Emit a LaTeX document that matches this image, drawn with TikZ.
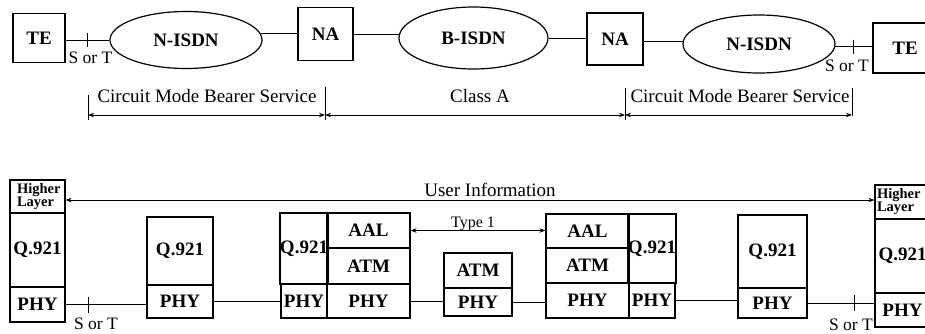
\documentclass[tikz,border=0pt]{standalone}
\usepackage{fontspec}
\setmainfont{Liberation Serif}
\usetikzlibrary{shapes.geometric,arrows.meta,calc}
\begin{document}
\begin{tikzpicture}[x=1pt,y=-1pt,
  line width=0.9pt,
  cell/.style={draw, rectangle, inner sep=0pt, line width=1.2pt, font=\bfseries\fontsize{19}{19}\selectfont},
  oval/.style={draw, ellipse, inner sep=0pt, line width=1.2pt, font=\bfseries\fontsize{19}{19}\selectfont},
  lbl/.style={inner sep=0pt, font=\fontsize{19}{19}\selectfont},
  smalllbl/.style={inner sep=0pt, font=\fontsize{17.5}{17.5}\selectfont},
  hl/.style={cell, align=left, font=\bfseries\fontsize{14.5}{13}\selectfont},
  dimarrow/.style={{Stealth[length=6pt,width=4.5pt]}-{Stealth[length=6pt,width=4.5pt]}},
]
\useasboundingbox (0,0) rectangle (925,333);
\clip (0,0) rectangle (925,333);

% ---------- top row ----------
\node[cell, minimum width=52pt, minimum height=49pt] (TE1) at (39,38) {TE};
\node[oval, minimum width=152pt, minimum height=57pt] (E1) at (186,40) {N-ISDN};
\node[cell, minimum width=55pt, minimum height=53pt] (NA1) at (325.5,34) {NA};
\node[oval, minimum width=149pt, minimum height=62pt] (E2) at (473.5,38) {B-ISDN};
\node[cell, minimum width=56pt, minimum height=52pt] (NA2) at (615,39) {NA};
\node[oval, minimum width=152pt, minimum height=58pt] (E3) at (759,44) {N-ISDN};
\node[cell, minimum width=64pt, minimum height=50pt] (TE2) at (905,48) {TE};

\draw (E1.west -| TE1.east) -- coordinate[midway] (t1) (E1.west);
\draw ([yshift=7pt]t1) -- ([yshift=-7pt]t1);
\draw (E1.5) -- (E1.5 -| NA1.west);
\draw (E2.177) -- (E2.177 -| NA1.east);
\draw (E2.east) -- (E2.east -| NA2.west);
\draw (E3.178) -- (E3.178 -| NA2.east);
\draw (E3.358) -- coordinate[midway] (t2) (E3.358 -| TE2.west);
\draw ([yshift=7pt]t2) -- ([yshift=-7pt]t2);

\node[smalllbl, anchor=base] (st1) at (90.5,63) {S or T};
\node[smalllbl, anchor=base] (st2) at (847,71) {S or T};

% ---------- service spans ----------
\coordinate (d0) at (88,115);
\coordinate (d1) at (325,115);
\coordinate (d2) at (625,115);
\coordinate (d3) at (852,115);
\draw[dimarrow] (d0) -- (d1);
\draw[dimarrow] (d1) -- (d2);
\draw[dimarrow] (d2) -- (d3);
\draw ([yshift=20pt]d0) -- ([yshift=-5pt]d0);
\draw ([yshift=28pt]d1) -- ([yshift=-5pt]d1);
\draw ([yshift=27pt]d2) -- ([yshift=-5pt]d2);
\draw ([yshift=27pt]d3) -- ([yshift=-1pt]d3);
\node[lbl, anchor=base] (c1) at (207,102) {Circuit Mode Bearer Service};
\node[lbl, anchor=base] (c2) at (480,102) {Class A};
\node[lbl, anchor=base] (c3) at (740,102) {Circuit Mode Bearer Service};

% ---------- protocol stacks ----------
\node[hl, text width=41pt, inner xsep=7pt, minimum height=33pt] (LH) at (37.5,196.5) {Higher\\Layer};
\node[cell, minimum width=55pt, minimum height=74pt] (LQ) at (37.5,250) {Q.921};
\node[cell, minimum width=55pt, minimum height=35pt] (LP) at (37.5,304.5) {PHY};

\node[cell, minimum width=66pt, minimum height=68pt] (B2Q) at (180,251) {Q.921};
\node[cell, minimum width=66pt, minimum height=33pt] (B2P) at (180,301.5) {PHY};

\node[cell, minimum width=46pt, minimum height=71pt] (B3Q) at (304,248.5) {Q.921};
\node[cell, minimum width=46pt, minimum height=34pt] (B3P) at (304,301) {PHY};
\node[cell, minimum width=83pt, minimum height=35pt] (B4A) at (368.5,230.5) {AAL};
\node[cell, minimum width=83pt, minimum height=36pt] (B4T) at (368.5,266) {ATM};
\node[cell, minimum width=83pt, minimum height=34pt] (B4P) at (368.5,301) {PHY};

\node[cell, minimum width=68pt, minimum height=35pt] (MT) at (478,270.5) {ATM};
\node[cell, minimum width=68pt, minimum height=28pt] (MP) at (478,302) {PHY};

\node[cell, minimum width=83pt, minimum height=34pt] (B5A) at (587.5,231) {AAL};
\node[cell, minimum width=83pt, minimum height=35pt] (B5T) at (587.5,265.5) {ATM};
\node[cell, minimum width=83pt, minimum height=35pt] (B5P) at (587.5,300.5) {PHY};
\node[cell, minimum width=46pt, minimum height=69pt] (B6Q) at (652,248.5) {Q.921};
\node[cell, minimum width=46pt, minimum height=35pt] (B6P) at (652,300.5) {PHY};

\node[cell, minimum width=69pt, minimum height=73pt] (B7Q) at (772.5,251.5) {Q.921};
\node[cell, minimum width=69pt, minimum height=30pt] (B7P) at (772.5,303) {PHY};

\node[hl, text width=51pt, inner xsep=2pt, minimum height=34pt] (RH) at (902.5,202) {Higher\\Layer};
\node[cell, minimum width=55pt, minimum height=74pt] (RQ) at (902.5,256) {Q.921};
\node[cell, minimum width=55pt, minimum height=34pt] (RP) at (902.5,310) {PHY};

% ---------- links ----------
\draw (LP.east) -- coordinate[pos=0.28] (t3) (LP.east -| B2P.west);
\draw ([yshift=8pt]t3) -- ([yshift=-8pt]t3);
\draw (B2P.east) -- (B2P.east -| B3P.west);
\draw (B4P.east) -- (B4P.east -| MP.west);
\draw (MP.east) -- (MP.east -| B5P.west);
\draw (B6P.east) -- (B6P.east -| B7P.west);
\draw (B7P.east) -- coordinate[pos=0.7] (t4) (B7P.east -| RP.west);
\draw ([yshift=8pt]t4) -- ([yshift=-8pt]t4);

\draw[dimarrow] (B4A.east) -- (B4A.east -| B5A.west);
\draw[dimarrow] ([yshift=-3.5pt]LH.east) -- ([yshift=-3.5pt]LH.east -| RH.west);

\node[lbl, anchor=base] (ui) at (490,196) {User Information};
\node[lbl, font=\fontsize{16}{16}\selectfont, anchor=base] (ty) at (473,227) {Type 1};
\node[smalllbl, anchor=base] (st3) at (96,329) {S or T};
\node[smalllbl, anchor=base] (st4) at (851,330) {S or T};
\end{tikzpicture}
\end{document}
